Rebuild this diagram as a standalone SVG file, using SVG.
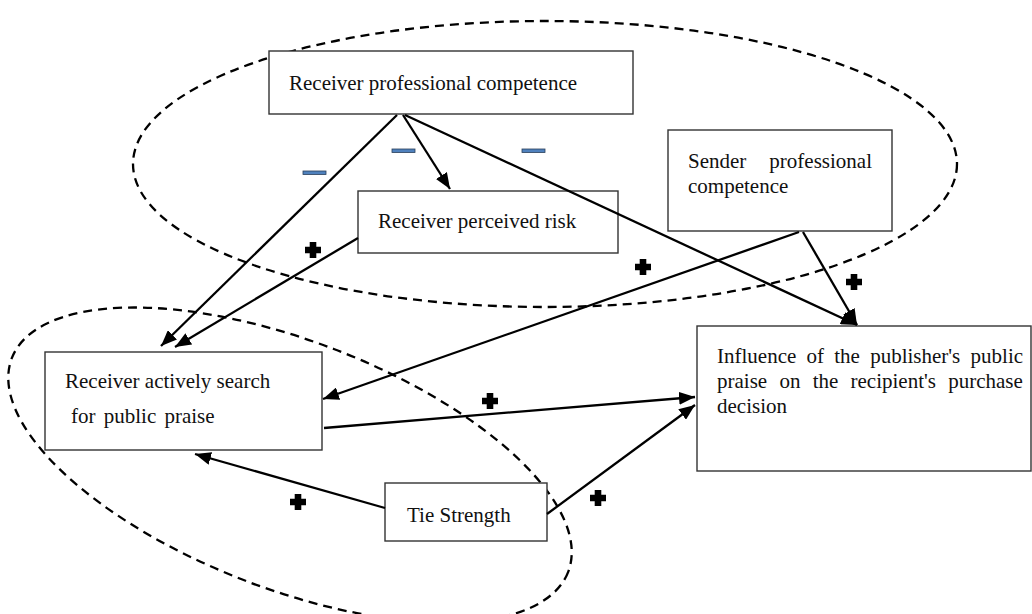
<svg xmlns="http://www.w3.org/2000/svg" xmlns:xlink="http://www.w3.org/1999/xlink" width="1032" height="614" viewBox="0 0 1032 614">
<defs>
<style>
.box{fill:#fff;stroke:#333;stroke-width:1.4}
.t{font-family:"Liberation Serif","Times New Roman",serif;font-size:21px;fill:#111}
.edge{stroke:#000;stroke-width:2.3;fill:none;marker-end:url(#ah)}
.oval{fill:none;stroke:#000;stroke-width:2.3;stroke-dasharray:9 6}
.minus{fill:#4f81bd;stroke:#2a3f5a;stroke-width:0.8}
</style>
<marker id="ah" viewBox="0 0 16 13" refX="16" refY="6.5" markerWidth="16" markerHeight="13" markerUnits="userSpaceOnUse" orient="auto">
<path d="M0,0 L16,6.5 L0,13 z" fill="#000"/>
</marker>
<path id="plus" d="M-3.3,-8 h6.6 v4.7 h4.7 v6.6 h-4.7 v4.7 h-6.6 v-4.7 h-4.7 v-6.6 h4.7 z" fill="#000"/>
</defs>
<rect width="1032" height="614" fill="#fff"/>
<g id="groups">
<ellipse class="oval" cx="545" cy="164" rx="412" ry="143"/>
<ellipse class="oval" cx="290" cy="465" rx="298" ry="124" transform="rotate(21 290 465)"/>
</g>
<g id="n-rpc">
<rect class="box" x="269" y="51" width="364" height="63"/>
<text class="t" x="289" y="90">Receiver professional competence</text>
</g>
<g id="n-rpr">
<rect class="box" x="358" y="191" width="260" height="62"/>
<text class="t" x="378" y="228">Receiver perceived risk</text>
</g>
<g id="n-spc">
<rect class="box" x="668" y="130" width="224" height="101"/>
<text class="t" x="688" y="168">Sender</text>
<text class="t" x="872" y="168" text-anchor="end">professional</text>
<text class="t" x="688" y="193">competence</text>
</g>
<g id="n-influence">
<rect class="box" x="697" y="326" width="334" height="145"/>
<text class="t" x="717" y="363" word-spacing="5">Influence of the publisher's public</text>
<text class="t" x="717" y="388" word-spacing="7">praise on the recipient's purchase</text>
<text class="t" x="717" y="413">decision</text>
</g>
<g id="n-ras">
<rect class="box" x="45" y="352" width="277" height="98"/>
<text class="t" x="65" y="388">Receiver actively search</text>
<text class="t" x="71" y="423" word-spacing="3">for public praise</text>
</g>
<g id="n-tie">
<rect class="box" x="385" y="483" width="162" height="58"/>
<text class="t" x="407" y="522">Tie Strength</text>
</g>
<g id="connectors">
<line class="edge" x1="397" y1="115" x2="161" y2="346"/>
<line class="edge" x1="403" y1="115" x2="450" y2="189"/>
<line class="edge" x1="405" y1="115" x2="857" y2="325"/>
<line class="edge" x1="358" y1="238" x2="175" y2="347"/>
<line class="edge" x1="799" y1="232" x2="323" y2="399"/>
<line class="edge" x1="803" y1="232" x2="857" y2="325"/>
<line class="edge" x1="324" y1="428" x2="695" y2="397"/>
<line class="edge" x1="547" y1="514" x2="695" y2="405"/>
<line class="edge" x1="385" y1="508" x2="195" y2="454"/>
</g>
<g id="signs">
<rect class="minus" x="303" y="171" width="23" height="3.5"/>
<rect class="minus" x="392" y="149" width="23" height="3.5"/>
<rect class="minus" x="522" y="149" width="23" height="3.5"/>
<use xlink:href="#plus" x="313" y="250"/>
<use xlink:href="#plus" x="643" y="267"/>
<use xlink:href="#plus" x="854" y="282"/>
<use xlink:href="#plus" x="298" y="502"/>
<use xlink:href="#plus" x="490" y="401"/>
<use xlink:href="#plus" x="598" y="498"/>
</g>
</svg>
